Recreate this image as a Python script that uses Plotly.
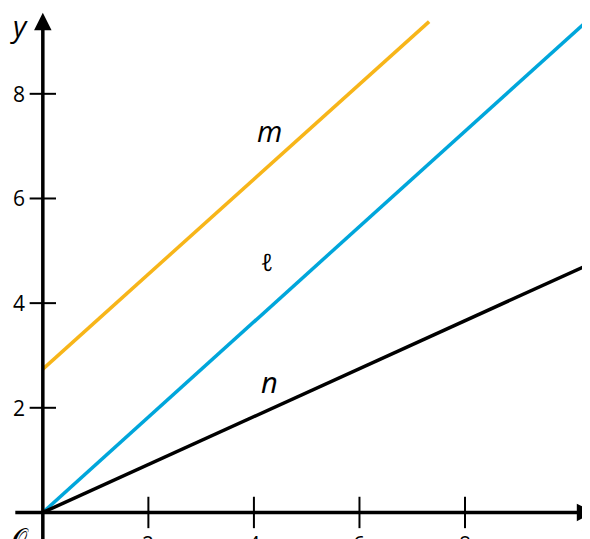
import plotly.graph_objects as go

x_ticks = [2, 4, 6, 8]
y_ticks = [2, 4, 6, 8]
l_x = [0, 10.3]; l_y = [0, 9.38]
m_x = [0, 7.32]; m_y = [2.74, 9.38]
n_x = [0, 10.48]; n_y = [0, 4.8]
labels = [("m", 4.3, 7.3, True), ("ℓ", 4.25, 4.8, False), ("n", 4.3, 2.5, True)]

fig = go.Figure()
fig.add_trace(go.Scatter(x=m_x, y=m_y, mode="lines", line=dict(color="#F7B519", width=3.5)))
fig.add_trace(go.Scatter(x=l_x, y=l_y, mode="lines", line=dict(color="#00A6DB", width=3.5)))
fig.add_trace(go.Scatter(x=n_x, y=n_y, mode="lines", line=dict(color="black", width=3.5)))

shapes = []
for t in x_ticks:
    shapes.append(dict(type="line", x0=t, x1=t, y0=-0.3, y1=0.3, line=dict(color="black", width=2)))
for t in y_ticks:
    shapes.append(dict(type="line", x0=-0.25, x1=0.25, y0=t, y1=t, line=dict(color="black", width=2)))

ann = []
for t in x_ticks:
    ann.append(dict(x=t, y=-0.3, text=str(t), showarrow=False, yanchor="top", font=dict(size=21)))
for t in y_ticks:
    ann.append(dict(x=-0.3, y=t, text=str(t), showarrow=False, xanchor="right", font=dict(size=21)))
for txt, x, y, it in labels:
    ann.append(dict(x=x, y=y, text=f"<i>{txt}</i>" if it else txt, showarrow=False, font=dict(size=29 if it else 24)))
ann.append(dict(x=10.45, y=0, ax=-0.55, ay=0, xref="x", yref="y", axref="x", ayref="y", text="",
                showarrow=True, arrowhead=2, arrowsize=1, arrowwidth=3.5, arrowcolor="black"))
ann.append(dict(x=0, y=9.55, ax=0, ay=-0.6, xref="x", yref="y", axref="x", ayref="y", text="",
                showarrow=True, arrowhead=2, arrowsize=1, arrowwidth=3.5, arrowcolor="black"))
ann.append(dict(x=-0.45, y=9.3, text="<i>y</i>", showarrow=False, font=dict(size=29)))
ann.append(dict(x=10.3, y=-0.42, text="<i>x</i>", showarrow=False, font=dict(size=29)))
ann.append(dict(x=-0.42, y=-0.45, text="𝒪", showarrow=False, font=dict(size=24)))

fig.update_layout(
    width=590, height=539, margin=dict(l=0, r=0, t=0, b=0),
    plot_bgcolor="white", paper_bgcolor="white", showlegend=False,
    font=dict(family="Open Sans", color="black"),
    xaxis=dict(range=[-0.66, 10.52], visible=False),
    yaxis=dict(range=[-0.66, 9.64], visible=False),
    shapes=shapes, annotations=ann,
)
fig.write_html("out.html")
